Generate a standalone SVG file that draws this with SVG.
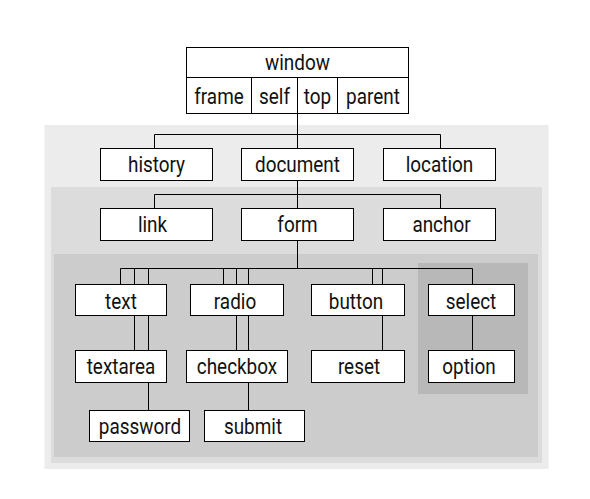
<svg xmlns="http://www.w3.org/2000/svg" width="590" height="499" viewBox="0 0 590 499">
<style>
.n rect{fill:#fff;stroke:#000;stroke-width:1}
text{font-family:"Roboto","Liberation Sans",sans-serif;font-size:22px;fill:#111;text-anchor:middle;dominant-baseline:central;transform-box:fill-box;transform-origin:center;transform:scaleX(0.86)}
#connectors path{fill:none;stroke:#000;stroke-width:1}
</style>
<rect width="590" height="499" fill="#fff"/>
<rect x="44.5" y="125" width="504" height="344" fill="#ececec"/>
<rect x="51" y="187" width="491" height="276" fill="#dcdcdc"/>
<rect x="54" y="254" width="484" height="203" fill="#cccccc"/>
<rect x="418" y="263" width="110" height="131" fill="#b8b8b8"/>
<g id="connectors">
<path d="M297.5 114V148M154.5 148V134.5H440.5V148"/>
<path d="M297.5 181V208M154.5 208V194.5H440.5V208"/>
<path d="M297.5 240V268.5M120.5 284V268.5H472.5V284"/>
<path d="M134.5 268.5V284M148.5 268.5V284M223.5 268.5V284M236.5 268.5V284M248.5 268.5V284M372.5 268.5V284M382.5 268.5V284"/>
<path d="M134.5 315V350M148.5 315V350M236.5 315V350M248.5 315V350M382.5 315V350M472.5 315V350"/>
<path d="M148.5 382V410M248.5 382V410"/>
</g>
<g id="window" class="n">
<rect x="186.5" y="47.5" width="222" height="66"/>
<path d="M186.5 77.5H408.5M251.5 77.5V113.5M297.5 77.5V113.5M337.5 77.5V113.5" fill="none" stroke="#000"/>
<text x="297.5" y="63">window</text>
<text x="219" y="96">frame</text>
<text x="274.5" y="96">self</text>
<text x="317.5" y="96">top</text>
<text x="373" y="96">parent</text>
</g>
<g id="history" class="n"><rect x="100.5" y="148.5" width="112" height="32"/><text x="156.5" y="165">history</text></g>
<g id="document" class="n"><rect x="241.5" y="148.5" width="112" height="32"/><text x="297.5" y="165">document</text></g>
<g id="location" class="n"><rect x="383.5" y="148.5" width="112" height="32"/><text x="439.5" y="165">location</text></g>
<g id="link" class="n"><rect x="100.5" y="208.5" width="112" height="32"/><text x="152.5" y="225">link</text></g>
<g id="form" class="n"><rect x="241.5" y="208.5" width="112" height="32"/><text x="297.5" y="225">form</text></g>
<g id="anchor" class="n"><rect x="383.5" y="208.5" width="112" height="32"/><text x="441.5" y="225">anchor</text></g>
<g id="text" class="n"><rect x="75.5" y="284.5" width="91" height="31"/><text x="121" y="301">text</text></g>
<g id="radio" class="n"><rect x="190.5" y="284.5" width="93" height="31"/><text x="235" y="301">radio</text></g>
<g id="button" class="n"><rect x="311.5" y="284.5" width="93" height="31"/><text x="356" y="301">button</text></g>
<g id="select" class="n"><rect x="428.5" y="284.5" width="86" height="31"/><text x="471" y="301">select</text></g>
<g id="textarea" class="n"><rect x="75.5" y="350.5" width="91" height="32"/><text x="121" y="367">textarea</text></g>
<g id="checkbox" class="n"><rect x="186.5" y="350.5" width="101" height="32"/><text x="237" y="367">checkbox</text></g>
<g id="reset" class="n"><rect x="311.5" y="350.5" width="93" height="32"/><text x="359" y="367">reset</text></g>
<g id="option" class="n"><rect x="428.5" y="350.5" width="86" height="32"/><text x="469" y="367">option</text></g>
<g id="password" class="n"><rect x="89.5" y="410.5" width="100" height="31"/><text x="140" y="427">password</text></g>
<g id="submit" class="n"><rect x="204.5" y="410.5" width="100" height="31"/><text x="253" y="427">submit</text></g>
</svg>
